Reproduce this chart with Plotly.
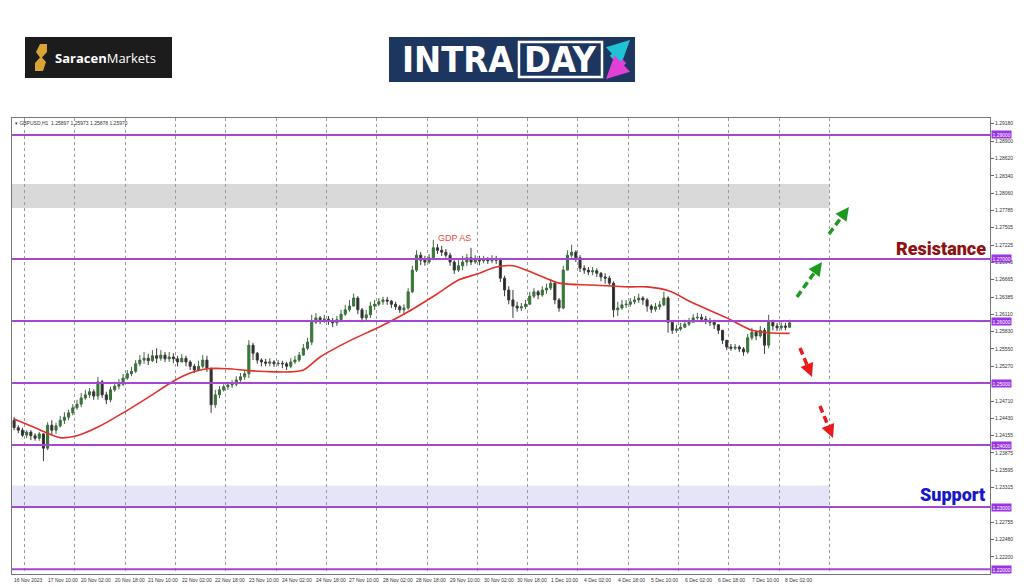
import plotly.graph_objects as go

W, H = 1024, 587
PL, PR, PT, PB = 12, 990, 118, 574

# ---------------- data (GBPUSD, 2-hour candles) ----------------
first_open = 1.2440
close = [1.2428,1.2424,1.2416,1.2421,1.2415,1.2411,1.2418,1.2395,1.2432,1.2424,
 1.2431,1.2440,1.2445,1.2452,1.2460,1.2466,1.2476,1.2481,1.2486,1.2479,
 1.2502,1.2481,1.2473,1.2489,1.2495,1.2498,1.2508,1.2515,1.2519,1.2531,
 1.2537,1.2540,1.2536,1.2544,1.2540,1.2545,1.2539,1.2542,1.2539,1.2534,
 1.2540,1.2534,1.2527,1.2521,1.2527,1.2537,1.2524,1.2465,1.2481,1.2489,
 1.2494,1.2497,1.2498,1.2505,1.2510,1.2515,1.2561,1.2548,1.2537,1.2534,
 1.2532,1.2534,1.2531,1.2532,1.2531,1.2527,1.2534,1.2537,1.2545,1.2556,
 1.2566,1.2598,1.2605,1.2602,1.2603,1.2600,1.2597,1.2602,1.2611,1.2618,
 1.2624,1.2637,1.2618,1.2605,1.2610,1.2624,1.2627,1.2631,1.2634,1.2632,
 1.2627,1.2623,1.2618,1.2621,1.2647,1.2682,1.2706,1.2698,1.2695,1.2702,
 1.2718,1.2714,1.2711,1.2706,1.2695,1.2682,1.2689,1.2695,1.2702,1.2695,
 1.2698,1.2697,1.2700,1.2697,1.2700,1.2698,1.2669,1.2650,1.2634,1.2624,
 1.2621,1.2623,1.2627,1.2640,1.2647,1.2642,1.2650,1.2653,1.2661,1.2634,
 1.2621,1.2682,1.2706,1.2711,1.2702,1.2685,1.2682,1.2679,1.2681,1.2677,
 1.2671,1.2669,1.2661,1.2618,1.2621,1.2626,1.2627,1.2631,1.2634,1.2637,
 1.2634,1.2624,1.2619,1.2623,1.2626,1.2637,1.2598,1.2585,1.2587,1.2590,
 1.2595,1.2598,1.2605,1.2606,1.2603,1.2600,1.2598,1.2594,1.2585,1.2569,
 1.2558,1.2556,1.2558,1.2555,1.2550,1.2573,1.2582,1.2576,1.2585,1.2561,
 1.2598,1.2592,1.2589,1.2592,1.2590,1.2597]
high = [1.2445,1.2432,1.2428,1.2424,1.2424,1.2419,1.2421,1.2419,1.2437,1.2440,
 1.2436,1.2447,1.2453,1.2457,1.2466,1.2473,1.2484,1.2489,1.2492,1.2490,
 1.2510,1.2505,1.2486,1.2494,1.2502,1.2506,1.2515,1.2521,1.2526,1.2537,
 1.2545,1.2550,1.2547,1.2553,1.2556,1.2553,1.2550,1.2550,1.2548,1.2544,
 1.2547,1.2544,1.2537,1.2531,1.2536,1.2545,1.2544,1.2524,1.2489,1.2495,
 1.2498,1.2502,1.2505,1.2511,1.2516,1.2521,1.2569,1.2565,1.2550,1.2540,
 1.2539,1.2540,1.2537,1.2537,1.2536,1.2534,1.2540,1.2544,1.2550,1.2563,
 1.2573,1.2610,1.2613,1.2608,1.2610,1.2608,1.2605,1.2608,1.2618,1.2626,
 1.2634,1.2644,1.2640,1.2621,1.2618,1.2631,1.2634,1.2637,1.2639,1.2639,
 1.2634,1.2631,1.2626,1.2627,1.2653,1.2689,1.2714,1.2711,1.2705,1.2708,
 1.2731,1.2724,1.2721,1.2716,1.2710,1.2698,1.2698,1.2705,1.2708,1.2718,
 1.2706,1.2705,1.2705,1.2703,1.2706,1.2705,1.2702,1.2673,1.2656,1.2650,
 1.2631,1.2629,1.2634,1.2647,1.2653,1.2650,1.2656,1.2660,1.2668,1.2664,
 1.2637,1.2689,1.2714,1.2723,1.2714,1.2706,1.2690,1.2687,1.2687,1.2685,
 1.2679,1.2677,1.2673,1.2664,1.2631,1.2634,1.2634,1.2637,1.2640,1.2644,
 1.2640,1.2637,1.2627,1.2629,1.2632,1.2647,1.2640,1.2600,1.2594,1.2597,
 1.2602,1.2605,1.2611,1.2613,1.2611,1.2608,1.2605,1.2602,1.2595,1.2585,
 1.2569,1.2563,1.2563,1.2561,1.2558,1.2579,1.2589,1.2585,1.2592,1.2589,
 1.2610,1.2602,1.2597,1.2598,1.2597,1.2602]
low = [1.2424,1.2419,1.2413,1.2411,1.2408,1.2407,1.2407,1.2374,1.2392,1.2416,
 1.2418,1.2428,1.2434,1.2440,1.2448,1.2457,1.2461,1.2473,1.2476,1.2473,
 1.2473,1.2476,1.2466,1.2469,1.2486,1.2490,1.2495,1.2505,1.2511,1.2516,
 1.2527,1.2531,1.2529,1.2534,1.2532,1.2536,1.2534,1.2534,1.2532,1.2527,
 1.2534,1.2527,1.2521,1.2516,1.2519,1.2524,1.2518,1.2452,1.2460,1.2476,
 1.2486,1.2489,1.2492,1.2495,1.2502,1.2505,1.2508,1.2537,1.2531,1.2527,
 1.2527,1.2527,1.2526,1.2527,1.2524,1.2521,1.2524,1.2531,1.2534,1.2544,
 1.2553,1.2561,1.2595,1.2595,1.2597,1.2594,1.2590,1.2592,1.2598,1.2608,
 1.2615,1.2624,1.2611,1.2598,1.2600,1.2605,1.2618,1.2624,1.2626,1.2626,
 1.2621,1.2618,1.2613,1.2610,1.2618,1.2645,1.2679,1.2690,1.2689,1.2692,
 1.2698,1.2708,1.2705,1.2702,1.2689,1.2676,1.2679,1.2682,1.2689,1.2690,
 1.2692,1.2690,1.2693,1.2692,1.2693,1.2692,1.2663,1.2640,1.2627,1.2605,
 1.2615,1.2616,1.2619,1.2627,1.2637,1.2635,1.2639,1.2644,1.2650,1.2627,
 1.2615,1.2619,1.2682,1.2702,1.2695,1.2679,1.2676,1.2674,1.2674,1.2671,
 1.2664,1.2660,1.2656,1.2606,1.2608,1.2618,1.2621,1.2623,1.2627,1.2629,
 1.2626,1.2615,1.2613,1.2615,1.2618,1.2624,1.2581,1.2579,1.2581,1.2584,
 1.2589,1.2592,1.2598,1.2602,1.2598,1.2595,1.2592,1.2587,1.2579,1.2563,
 1.2553,1.2552,1.2553,1.2550,1.2544,1.2547,1.2569,1.2569,1.2573,1.2547,
 1.2556,1.2585,1.2584,1.2585,1.2585,1.2589]

# moving average (red line), sampled at candle indices
ma_candle = [0, 5, 11, 15, 20, 26, 32, 38, 42, 46, 51, 56, 62, 66, 69, 73, 80, 87, 94,
             101, 106, 111, 115, 119, 124, 130, 138, 147, 151, 156, 162, 170, 176, 180, 185]
ma_value = [1.2442, 1.2428, 1.2412, 1.2415, 1.2429, 1.2452, 1.2477, 1.2503, 1.2516, 1.2523,
            1.2523, 1.2520, 1.2518, 1.2518, 1.2521, 1.2542, 1.2568, 1.2590, 1.2615,
            1.2644, 1.2666, 1.2677, 1.2687, 1.2689, 1.2677, 1.2661, 1.2658, 1.2655, 1.2655,
            1.2649, 1.2629, 1.2605, 1.2585, 1.2581, 1.2580]

levels = [1.29, 1.27, 1.26, 1.25, 1.24, 1.23, 1.22]
resistance_zone = (1.2782, 1.2821)
support_zone = (1.2300, 1.2335)

ytick_vals = [1.29180, 1.28900, 1.28620, 1.28340, 1.28060, 1.27785, 1.27505, 1.27225,
              1.26945, 1.26665, 1.26385, 1.26110, 1.25830, 1.25550, 1.25270,
              1.24710, 1.24430, 1.24155, 1.23875, 1.23595, 1.23315, 1.22755,
              1.22480, 1.22200, 1.21920]

# x axis in H1 bars (bar 0 = 16 Nov 18:00)
xlabel_bars = [0, 16, 32, 48, 64, 80, 96, 112, 128, 144, 160, 176, 192, 208, 224, 240,
               256, 272, 288, 304, 320, 336, 352, 368]
xlabel_text = ["16 Nov 2023", "17 Nov 10:00", "20 Nov 02:00", "20 Nov 18:00", "21 Nov 10:00",
               "22 Nov 02:00", "22 Nov 18:00", "23 Nov 10:00", "24 Nov 02:00", "24 Nov 18:00",
               "27 Nov 10:00", "28 Nov 02:00", "28 Nov 18:00", "29 Nov 10:00", "30 Nov 02:00",
               "30 Nov 18:00", "1 Dec 10:00", "4 Dec 02:00", "4 Dec 18:00", "5 Dec 10:00",
               "6 Dec 02:00", "6 Dec 18:00", "7 Dec 10:00", "8 Dec 02:00"]
day_start_bars = list(range(6, 391, 24))
bars_per_candle = 2
x_max_bars = 466.6
y_range = [1.21922, 1.29272]

# ---------------- derived ----------------
opn = [first_open] + close[:-1]
hi = [max(h, o, c) for h, o, c in zip(high, opn, close)]
lo = [min(l, o, c) for l, o, c in zip(low, opn, close)]
xs = [bars_per_candle * k + 1 for k in range(len(close))]
ma_x = [bars_per_candle * k + 1 for k in ma_candle]

SMALL = dict(size=5, color="#333", family="Liberation Sans, Arial")


def fx(px):
    return (px - PL) / (PR - PL)


def fy(py):
    return (PB - py) / (PB - PT)


fig = go.Figure()
fig.add_trace(go.Candlestick(
    x=xs, open=opn, high=hi, low=lo, close=close,
    increasing=dict(line=dict(color="#3f6a3f", width=1), fillcolor="#2a852a"),
    decreasing=dict(line=dict(color="#3a3a3a", width=1), fillcolor="#262626"),
    whiskerwidth=0, showlegend=False, hoverinfo="skip"))
fig.add_trace(go.Scatter(x=ma_x, y=ma_value, mode="lines",
                         line=dict(color="#e2302a", width=1.6, shape="spline", smoothing=0.8),
                         showlegend=False, hoverinfo="skip"))

shapes = []
# zones
shapes.append(dict(type="rect", xref="x", yref="y", x0=0, x1=day_start_bars[-1],
                   y0=resistance_zone[0], y1=resistance_zone[1],
                   fillcolor="#d9d9d9", line=dict(width=0), layer="below"))
shapes.append(dict(type="rect", xref="x", yref="y", x0=0, x1=day_start_bars[-1],
                   y0=support_zone[0], y1=support_zone[1],
                   fillcolor="#e5e5f7", line=dict(width=0), layer="below"))
# level lines
for lv in levels:
    shapes.append(dict(type="line", xref="paper", yref="y", x0=0, x1=1, y0=lv, y1=lv,
                       line=dict(color="#a448d2", width=2)))

annotations = []
for lv in levels:
    annotations.append(dict(xref="paper", yref="y", x=1.0, y=lv, xanchor="left", yanchor="middle",
                            text=f"{lv:.5f}", showarrow=False, bgcolor="#9a35e6",
                            font=dict(size=5, color="white", family="Liberation Sans, Arial"),
                            borderpad=0.5, xshift=1))

# x labels
for b, t in zip(xlabel_bars, xlabel_text):
    annotations.append(dict(xref="x", yref="paper", x=b, y=fy(580), xanchor="left",
                            yanchor="middle", text=t, showarrow=False, font=SMALL))

# header text inside chart
annotations.append(dict(xref="paper", yref="paper", x=fx(13), y=fy(123), xanchor="left",
                        yanchor="middle", showarrow=False,
                        text="▾ GBPUSD,H1  1.25897 1.25973 1.25878 1.25970", font=SMALL))
annotations.append(dict(xref="paper", yref="paper", x=fx(454), y=fy(238), xanchor="center",
                        yanchor="middle", showarrow=False,
                        text="GDP AS", font=dict(size=9, color="#e84a3a", family="Liberation Sans")))
annotations.append(dict(xref="paper", yref="paper", x=fx(988), y=fy(249), xanchor="right",
                        yanchor="middle", showarrow=False, text="Resistance",
                        font=dict(size=18, color="#8e1212", family="Roboto", weight=900)))
annotations.append(dict(xref="paper", yref="paper", x=fx(987), y=fy(494), xanchor="right",
                        yanchor="middle", showarrow=False, text="Support",
                        font=dict(size=18, color="#1616cc", family="Roboto", weight=900)))

# dashed direction arrows
arrows = [((797, 297), (822, 262), "#1e9a1e"),
          ((829, 234), (849, 207), "#1e9a1e"),
          ((800, 348), (812, 377), "#e81c1c"),
          ((820, 406), (833, 438), "#e81c1c")]
for (x0, y0), (x1, y1), col in arrows:
    dx, dy = x1 - x0, y1 - y0
    n = (dx * dx + dy * dy) ** 0.5
    ux, uy = dx / n, dy / n
    shapes.append(dict(type="line", xref="paper", yref="paper",
                       x0=fx(x0), y0=fy(y0), x1=fx(x1 - ux * 5), y1=fy(y1 - uy * 5),
                       line=dict(color=col, width=3.5, dash="7px,4px")))
    annotations.append(dict(xref="paper", yref="paper", x=fx(x1), y=fy(y1), showarrow=True,
                            ax=-ux * 6, ay=-uy * 6, arrowhead=2, arrowsize=0.9, arrowwidth=3,
                            arrowcolor=col, text=""))

# ---------------- logos ----------------
shapes.append(dict(type="rect", xref="paper", yref="paper", x0=fx(25), x1=fx(172),
                   y0=fy(37), y1=fy(78), fillcolor="#1c1c1c", line=dict(width=0)))
s_pts = [(40, 44), (47, 44), (47, 52), (42, 57.5), (46, 62), (43, 71), (35, 71), (35, 63),
         (40, 57.5), (36, 52)]
s_path = "M " + " L ".join(f"{fx(a)},{fy(b)}" for a, b in s_pts) + " Z"
shapes.append(dict(type="path", xref="paper", yref="paper", path=s_path,
                   fillcolor="#d9a431", line=dict(width=0)))
annotations.append(dict(xref="paper", yref="paper", x=fx(53), y=fy(57.5), xanchor="left",
                        yanchor="middle", showarrow=False,
                        text="<b>Saracen</b>Markets",
                        font=dict(size=13, color="white", family="Open Sans")))

shapes.append(dict(type="rect", xref="paper", yref="paper", x0=fx(389), x1=fx(635),
                   y0=fy(37), y1=fy(82), fillcolor="#1d365f", line=dict(width=0)))
shapes.append(dict(type="rect", xref="paper", yref="paper", x0=fx(519), x1=fx(602),
                   y0=fy(42), y1=fy(77), fillcolor="rgba(0,0,0,0)",
                   line=dict(color="white", width=2.5)))
annotations.append(dict(xref="paper", yref="paper", x=fx(457), y=fy(60), xanchor="center",
                        yanchor="middle", showarrow=False, text="<b>INTRA</b>",
                        font=dict(size=36, color="white", family="DejaVu Sans Condensed, DejaVu Sans")))
annotations.append(dict(xref="paper", yref="paper", x=fx(560), y=fy(60), xanchor="center",
                        yanchor="middle", showarrow=False, text="<b>DAY</b>",
                        font=dict(size=36, color="white", family="DejaVu Sans Condensed, DejaVu Sans")))
annotations.append(dict(xref="paper", yref="paper", x=fx(630), y=fy(40), showarrow=True,
                        ax=-20, ay=19, arrowhead=2, arrowsize=0.9, arrowwidth=5,
                        arrowcolor="#20c3d4", text=""))
annotations.append(dict(xref="paper", yref="paper", x=fx(606), y=fy(79), showarrow=True,
                        ax=20, ay=-19, arrowhead=2, arrowsize=0.9, arrowwidth=5,
                        arrowcolor="#e23fd6", text=""))

fig.update_layout(
    width=W, height=H,
    margin=dict(l=PL, r=W - PR, t=PT, b=H - PB, autoexpand=False),
    paper_bgcolor="white", plot_bgcolor="white",
    shapes=shapes, annotations=annotations,
    showlegend=False,
    xaxis=dict(range=[0, x_max_bars], tickvals=day_start_bars, showticklabels=False,
               showgrid=True, gridcolor="#9a9a9a", griddash="dot", gridwidth=1,
               showline=True, linecolor="#777", mirror=True, zeroline=False,
               rangeslider=dict(visible=False), ticks="", automargin=False),
    yaxis=dict(range=y_range, side="right", tickmode="array", tickvals=ytick_vals,
               ticktext=[f"{v:.5f}" for v in ytick_vals],
               tickfont=SMALL,
               ticks="outside", ticklen=3, tickcolor="#666", automargin=False,
               showgrid=False, showline=True, linecolor="#777", mirror=True, zeroline=False),
)

fig.write_html("out.html", config={"displayModeBar": False},
               post_script="document.body.style.margin='0';document.body.style.overflow='hidden';")
